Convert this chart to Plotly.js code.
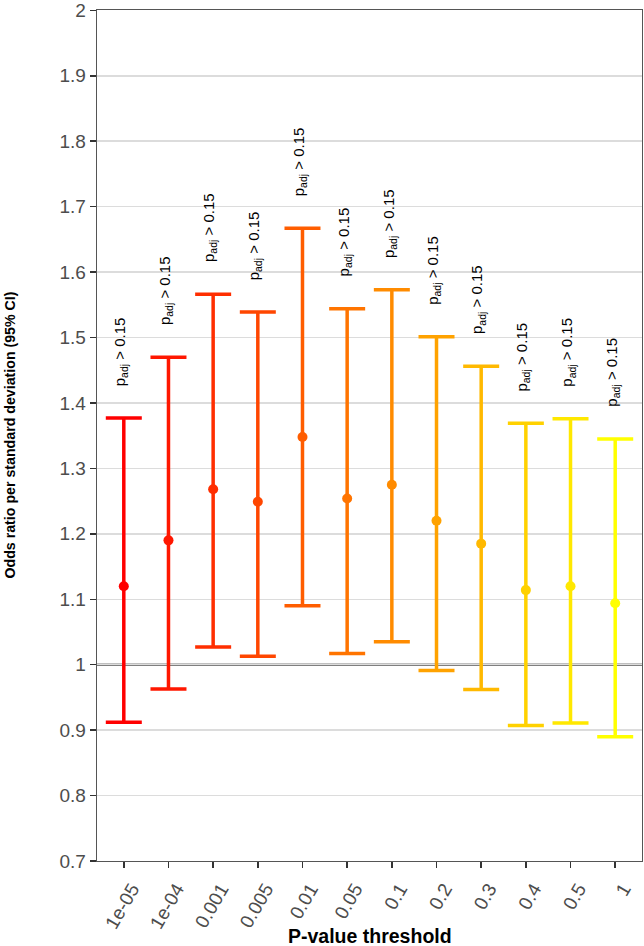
<!DOCTYPE html>
<html>
<head>
<meta charset="utf-8">
<script src="https://cdn.plot.ly/plotly-3.0.1.min.js"></script>
<style>html,body{margin:0;padding:0;background:#fff;}#chart{width:644px;height:946px;}</style>
</head>
<body>
<div id="chart"></div>
<script>
const thresholds = ["1e-05","1e-04","0.001","0.005","0.01","0.05","0.1","0.2","0.3","0.4","0.5","1"];
const oddsRatio = [1.120, 1.190, 1.268, 1.249, 1.348, 1.254, 1.275, 1.220, 1.185, 1.114, 1.120, 1.094];
const ciUpper   = [1.377, 1.470, 1.566, 1.539, 1.667, 1.544, 1.573, 1.501, 1.456, 1.369, 1.376, 1.345];
const ciLower   = [0.912, 0.963, 1.027, 1.013, 1.090, 1.017, 1.035, 0.991, 0.962, 0.907, 0.911, 0.890];
const pLabels   = ["p<sub>adj</sub> > 0.15","p<sub>adj</sub> > 0.15","p<sub>adj</sub> > 0.15","p<sub>adj</sub> > 0.15","p<sub>adj</sub> > 0.15","p<sub>adj</sub> > 0.15","p<sub>adj</sub> > 0.15","p<sub>adj</sub> > 0.15","p<sub>adj</sub> > 0.15","p<sub>adj</sub> > 0.15","p<sub>adj</sub> > 0.15","p<sub>adj</sub> > 0.15"];
const yTicks    = [0.7,0.8,0.9,1,1.1,1.2,1.3,1.4,1.5,1.6,1.7,1.8,1.9,2];
const yTickText = ['0.7','0.8','0.9','1','1.1','1.2','1.3','1.4','1.5','1.6','1.7','1.8','1.9','2'];
const colors = ["#FF0000","#FF1700","#FF2E00","#FF4600","#FF5D00","#FF7400","#FF8B00","#FFA200","#FFB900","#FFD100","#FFE800","#FFFF00"];

const FONT = 'Liberation Sans, Arial, sans-serif';

const traces = thresholds.map((t, i) => ({
  type: 'scatter',
  mode: 'markers',
  x: [t],
  y: [oddsRatio[i]],
  marker: {color: colors[i], size: 10},
  error_y: {
    type: 'data',
    symmetric: false,
    array: [ciUpper[i] - oddsRatio[i]],
    arrayminus: [oddsRatio[i] - ciLower[i]],
    color: colors[i],
    thickness: 3.5,
    width: 18
  },
  hoverinfo: 'x+y',
  showlegend: false
}));

const annotations = thresholds.map((t, i) => ({
  x: i, y: ciUpper[i], xref: 'x', yref: 'y',
  text: pLabels[i],
  textangle: -90,
  showarrow: false,
  yanchor: 'bottom', xanchor: 'center',
  yshift: 30, xshift: -3,
  font: {family: FONT, size: 15, color: '#000'}
}));

annotations.push({
  xref: 'paper', yref: 'paper', x: 0, y: 0.5,
  xanchor: 'center', yanchor: 'middle', xshift: -88,
  textangle: -90, showarrow: false,
  text: 'Odds ratio per standard deviation (95% CI)',
  font: {family: FONT, size: 14.2, color: '#000', weight: 'bold'}
});
annotations.push({
  xref: 'paper', yref: 'paper', x: 0.5, y: 0,
  xanchor: 'center', yanchor: 'middle', yshift: -75,
  showarrow: false,
  text: 'P-value threshold',
  font: {family: FONT, size: 19.5, color: '#000', weight: 'bold'}
});

const layout = {
  width: 644, height: 946,
  margin: {l: 97, r: 2, t: 10, b: 85},
  paper_bgcolor: '#fff', plot_bgcolor: '#fff',
  font: {family: FONT},
  xaxis: {
    type: 'category',
    categoryorder: 'array', categoryarray: thresholds,
    range: [-0.6, 11.6],
    showgrid: false, zeroline: false,
    showline: true, mirror: true, linecolor: '#555', linewidth: 1.3,
    ticks: 'outside', ticklen: 6, tickwidth: 1.5, tickcolor: '#333',
    tickangle: -60,
    ticklabelshift: 8,
    ticklabelstandoff: 2,
    tickfont: {size: 19, color: '#4d4d4d'}
  },
  yaxis: {
    range: [0.7, 2.0005],
    tickmode: 'array',
    tickvals: yTicks,
    ticktext: yTickText,
    ticklabeloverflow: 'allow',
    showgrid: true, gridcolor: '#dcdcdc', gridwidth: 1.5,
    zeroline: false,
    showline: true, mirror: true, linecolor: '#555', linewidth: 1.3,
    ticks: 'outside', ticklen: 6, tickwidth: 1.5, tickcolor: '#333',
    tickfont: {size: 19, color: '#4d4d4d'}
  },
  shapes: [{
    type: 'line', xref: 'paper', x0: 0, x1: 1, yref: 'y', y0: 1, y1: 1,
    line: {color: '#000', width: 1.8}, layer: 'between'
  }],
  annotations: annotations
};

Plotly.newPlot('chart', traces, layout, {displayModeBar: false, staticPlot: true});
</script>
</body>
</html>
